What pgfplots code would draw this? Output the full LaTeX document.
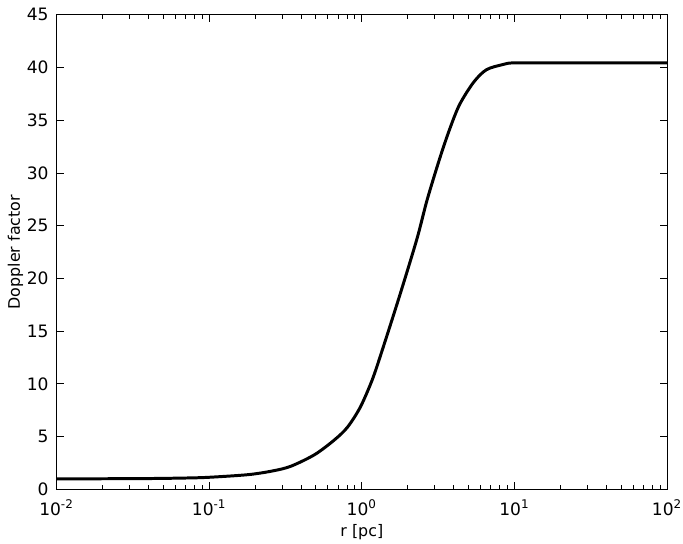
\documentclass[border=0pt]{standalone}
\usepackage{fontspec}
\setmainfont{DejaVu Sans}
\usepackage{pgfplots}
\pgfplotsset{compat=1.18}
\usetikzlibrary{calc}

\begin{document}
\begin{tikzpicture}[font=\fontsize{8pt}{9.6pt}\selectfont]
\begin{axis}[
    scale only axis,
    width=307.5pt,
    height=239pt,
    xmode=log,
    xmin=0.01, xmax=100,
    ymin=0, ymax=45,
    xtick={0.01,0.1,1,10,100},
    xticklabels={10\textsuperscript{-2},10\textsuperscript{-1},10\textsuperscript{0},10\textsuperscript{1},10\textsuperscript{2}},
    ytick={0,5,10,15,20,25,30,35,40,45},
    /pgf/number format/assume math mode=true,
    tick align=inside,
    tick pos=both,
    major tick length=3.5pt,
    minor tick length=2pt,
    every tick/.style={black, line width=0.5pt},
    axis line style={line width=0.5pt},
    ticklabel style={font=\fontsize{8.6pt}{10pt}\selectfont},
    xticklabel style={yshift=-1.5pt},
    yticklabel style={xshift=-0.5pt},
    xlabel={r [pc]},
    ylabel={Doppler factor},
    xlabel style={yshift=2.5pt},
    ylabel style={yshift=-5pt},
]
\addplot[black, line width=1.5pt, smooth] coordinates {
    (0.01,1.0) (0.02,1.01) (0.04,1.03) (0.07,1.08) (0.1,1.15)
    (0.18,1.4) (0.26,1.75) (0.343,2.2) (0.491,3.3) (0.662,4.7) (0.805,5.9)
    (0.977,7.8) (1.17,10.4) (1.36,13.2) (1.78,18.5) (2.30,23.8)
    (2.67,27.4) (3.24,31.4) (3.77,34.2) (4.37,36.5) (5.39,38.6)
    (6.55,39.8) (8.45,40.3) (10,40.45) (20,40.45) (100,40.45)
};
\coordinate (bl) at (rel axis cs:0,0);
\coordinate (tr) at (rel axis cs:1,1);
\end{axis}
\pgfresetboundingbox
\path[use as bounding box] ($(bl)+(-28.5pt,-27pt)$) rectangle ($(tr)+(8pt,7.5pt)$);
\end{tikzpicture}
\end{document}
